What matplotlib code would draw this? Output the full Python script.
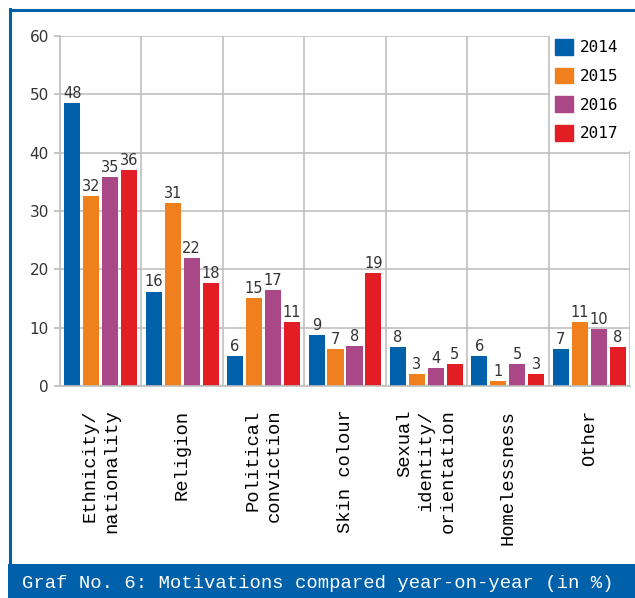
import numpy as np
import matplotlib
matplotlib.use("Agg")
import matplotlib.pyplot as plt
from matplotlib.patches import Rectangle
from matplotlib.lines import Line2D

categories = ["Ethnicity/\nnationality", "Religion", "Political\nconviction", "Skin colour",
              "Sexual\nidentity/\norientation", "Homelessness", "Other"]
years = ["2014", "2015", "2016", "2017"]
v2014 = [48.5, 16.2, 5.2, 8.8, 6.7, 5.2, 6.4]
v2015 = [32.6, 31.4, 15.1, 6.4, 2.1, 0.9, 10.9]
v2016 = [35.9, 22.0, 16.5, 6.8, 3.1, 3.8, 9.7]
v2017 = [37.1, 17.7, 10.9, 19.3, 3.8, 2.1, 6.7]
lab2014 = [48, 16, 6, 9, 8, 6, 7]
lab2015 = [32, 31, 15, 7, 3, 1, 11]
lab2016 = [35, 22, 17, 8, 4, 5, 10]
lab2017 = [36, 18, 11, 19, 5, 3, 8]
colors = ["#0060AA", "#F0801E", "#AA4887", "#E21E24"]
title = "Graf No. 6: Motivations compared year-on-year (in %)"

W, H = 635, 598
fig = plt.figure(figsize=(W / 100, H / 100), dpi=100)
ax = fig.add_axes([60 / W, 1 - 386 / H, 570 / W, 350 / H])

series = [v2014, v2015, v2016, v2017]
labels = [lab2014, lab2015, lab2016, lab2017]
x = np.arange(len(categories))
step, width = 0.233, 0.197
for i, (vals, labs, c) in enumerate(zip(series, labels, colors)):
    xs = x + (i - 1.5) * step
    bars = ax.bar(xs, vals, width, color=c, zorder=2, label=years[i])
    for b, l in zip(bars, labs):
        ax.annotate(str(l), (b.get_x() + b.get_width() / 2, b.get_height()),
                    xytext=(0, 1.5), textcoords="offset points", ha="center", va="bottom",
                    fontsize=10.5, color="#333333", zorder=3)

ax.set_xlim(-0.5, len(categories) - 0.5)
ax.set_ylim(0, 60)
ax.set_yticks(np.arange(0, 61, 10))
ax.set_xticks(x)
ax.set_xticklabels(categories, rotation=90, va="top", ha="center", multialignment="right",
                   family="Liberation Mono", fontsize=13.5, linespacing=1.35)
ax.set_xticks(np.arange(-0.5, len(categories), 1), minor=True)
ax.tick_params(axis="x", which="both", length=0, pad=17)
ax.tick_params(axis="y", length=4, width=1.2, color="#bbbbbb", labelsize=11,
               labelcolor="#333333", pad=4)
ax.grid(axis="y", which="major", color="#c0c0c0", lw=1.2)
ax.grid(axis="x", which="minor", color="#c0c0c0", lw=1.2)
ax.set_axisbelow(True)
for s in ["top", "right"]:
    ax.spines[s].set_visible(False)
for s in ["left", "bottom"]:
    ax.spines[s].set_color("#c0c0c0")
    ax.spines[s].set_linewidth(1.2)

# white area behind legend (covers grid in top right)
ax.add_patch(Rectangle((5.5 + 0.015, 40.25), 1.2, 22, transform=ax.transData,
                       facecolor="white", edgecolor="none", zorder=1, clip_on=False))

fs = 11.5
handles = [Rectangle((0, 0), 1, 1, color=c) for c in colors]
fig.legend(handles, years, loc="upper left", bbox_to_anchor=(555 / W, 1 - 39 / H),
           frameon=False, borderpad=0, borderaxespad=0, handlelength=1.13, handleheight=1.13,
           handletextpad=0.42, labelspacing=0.78, prop={"family": "DejaVu Sans Mono", "size": fs})

# frame
blue = "#0060AA"
fig.add_artist(Line2D([9.5 / W, 1.0], [1 - 9.8 / H, 1 - 9.8 / H], color=blue, lw=2.2,
                      transform=fig.transFigure))
fig.add_artist(Line2D([9.5 / W, 9.5 / W], [1 - 9 / H, 1 - 565 / H], color=blue, lw=2.2,
                      transform=fig.transFigure))
fig.add_artist(Rectangle((8 / W, 0), 1, 34 / H, transform=fig.transFigure,
                         facecolor=blue, edgecolor="none"))
fig.text(22 / W, 15 / H, title, color="white", family="Liberation Mono", fontsize=13.6,
         va="center", ha="left")

fig.savefig("out.png", dpi=100)
